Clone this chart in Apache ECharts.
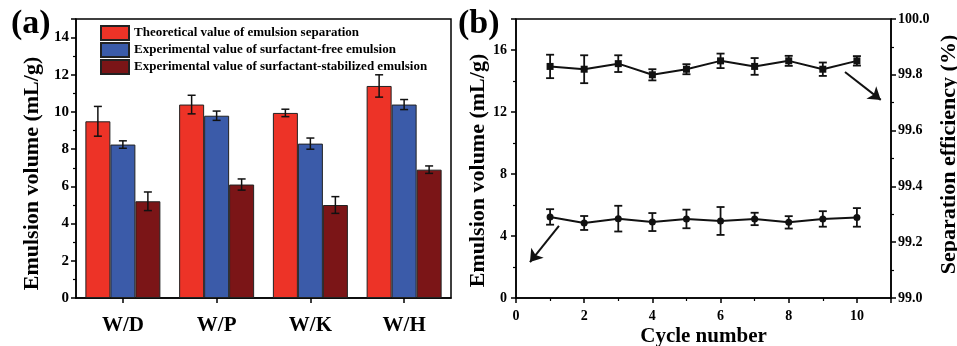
<!DOCTYPE html>
<html><head><meta charset="utf-8">
<script src="https://cdn.jsdelivr.net/npm/echarts@6/dist/echarts.min.js"></script>
<style>html,body{margin:0;padding:0;background:#fff}#c{width:957px;height:346px}</style>
</head><body><div id="c"></div>
<script>
// ---- data ----
var categories = ['W/D', 'W/P', 'W/K', 'W/H'];
var legendNames = ['Theoretical value of emulsion separation', 'Experimental value of surfactant-free emulsion', 'Experimental value of surfactant-stabilized emulsion'];
var theoreticalVals = [9.5, 10.4, 9.95, 11.4];
var theoreticalErr = [0.8, 0.5, 0.2, 0.6];
var freeVals = [8.25, 9.8, 8.3, 10.4];
var freeErr = [0.2, 0.25, 0.3, 0.27];
var stabVals = [5.2, 6.1, 5.0, 6.9];
var stabErr = [0.5, 0.3, 0.45, 0.2];

var cycles = [1, 2, 3, 4, 5, 6, 7, 8, 9, 10];
var efficiency = [99.83, 99.82, 99.84, 99.80, 99.82, 99.85, 99.83, 99.85, 99.82, 99.85];
var efficiencyErr = [0.042, 0.05, 0.03, 0.02, 0.018, 0.026, 0.03, 0.018, 0.024, 0.017];
var volume = [5.23, 4.84, 5.12, 4.9, 5.1, 4.97, 5.1, 4.88, 5.1, 5.2];
var volumeErr = [0.5, 0.45, 0.83, 0.58, 0.6, 0.9, 0.4, 0.4, 0.5, 0.6];

// annotation arrows (data coordinates)
var arrowEff = [[9.65, 99.81], [10.7, 99.71]];
var arrowVol = [[1.26, 4.65], [0.41, 2.32]];

var colors = ['#ED3327', '#3B5BA9', '#7B1517'];
var FONT = '"Liberation Serif", "Times New Roman", serif';

var chart = echarts.init(document.getElementById('c'), null, {renderer: 'canvas'});

function barErr(vals, errs, k) {
  return {
    type: 'custom', xAxisIndex: 0, yAxisIndex: 0, z: 10, silent: true,
    data: vals.map(function (v, i) { return [i, v, errs[i]]; }),
    encode: {x: 0, y: 1},
    renderItem: function (params, api) {
      var i = api.value(0), v = api.value(1), e = api.value(2);
      var band = api.size([1, 0])[0];
      var bw = band * 0.8 / 3;
      var off = (k - 1) * bw;
      var top = api.coord([i, v + e]), bot = api.coord([i, v - e]);
      var x = top[0] + off, cap = 4;
      var st = {stroke: '#111', lineWidth: 1.5};
      return {type: 'group', children: [
        {type: 'line', shape: {x1: x, y1: top[1], x2: x, y2: bot[1]}, style: st},
        {type: 'line', shape: {x1: x - cap, y1: top[1], x2: x + cap, y2: top[1]}, style: st},
        {type: 'line', shape: {x1: x - cap, y1: bot[1], x2: x + cap, y2: bot[1]}, style: st}
      ]};
    }
  };
}
function lineErr(xs, vals, errs, yIdx) {
  return {
    type: 'custom', xAxisIndex: 1, yAxisIndex: yIdx, z: 10, silent: true,
    data: vals.map(function (v, i) { return [xs[i], v, errs[i]]; }),
    encode: {x: 0, y: 1},
    renderItem: function (params, api) {
      var xv = api.value(0), v = api.value(1), e = api.value(2);
      var top = api.coord([xv, v + e]), bot = api.coord([xv, v - e]);
      var x = top[0], cap = 4;
      var st = {stroke: '#111', lineWidth: 1.8};
      return {type: 'group', children: [
        {type: 'line', shape: {x1: x, y1: top[1], x2: x, y2: bot[1]}, style: st},
        {type: 'line', shape: {x1: x - cap, y1: top[1], x2: x + cap, y2: top[1]}, style: st},
        {type: 'line', shape: {x1: x - cap, y1: bot[1], x2: x + cap, y2: bot[1]}, style: st}
      ]};
    }
  };
}

var axisLine = {show: true, lineStyle: {color: '#000', width: 1.5}};
var tick = {show: true, inside: false, length: 5, lineStyle: {color: '#000', width: 1.5}};
var minor = {show: true, splitNumber: 2, length: 3, lineStyle: {color: '#000', width: 1.2}};
var noSplit = {show: false};

function barSeries(name, vals, k) {
  return {
    name: name, type: 'bar', xAxisIndex: 0, yAxisIndex: 0, data: vals,
    barGap: 0, barCategoryGap: '20%',
    itemStyle: {color: colors[k], borderColor: '#222', borderWidth: 1}
  };
}

var option = {
  animation: false,
  backgroundColor: '#fff',
  textStyle: {fontFamily: FONT},
  title: [
    {text: '(a)', left: 6, top: 2, textStyle: {fontFamily: FONT, fontWeight: 'bold', fontSize: 34, color: '#000'}},
    {text: '(b)', left: 453, top: 2, textStyle: {fontFamily: FONT, fontWeight: 'bold', fontSize: 34, color: '#000'}}
  ],
  legend: {
    data: legendNames.map(function (n) { return {name: n, icon: 'rect'}; }),
    orient: 'vertical', left: 95, top: 20,
    itemWidth: 28, itemHeight: 14, itemGap: 1,
    textStyle: {fontFamily: FONT, fontWeight: 'bold', fontSize: 13, color: '#000', lineHeight: 15},
    selectedMode: false
  },
  grid: [
    {left: 76, top: 19, width: 375, height: 279, show: true, borderColor: '#000', borderWidth: 1.5,
     backgroundColor: 'transparent', containLabel: false, outerBoundsMode: 'none'},
    {left: 516, top: 19, width: 375, height: 279, show: true, borderColor: '#000', borderWidth: 1.5,
     backgroundColor: 'transparent', containLabel: false, outerBoundsMode: 'none'}
  ],
  xAxis: [
    {type: 'category', gridIndex: 0, data: categories, axisLine: axisLine,
     axisTick: {show: true, alignWithLabel: true, length: 5, lineStyle: {color: '#000', width: 1.5}},
     axisLabel: {fontFamily: FONT, fontWeight: 'bold', fontSize: 21, color: '#000', margin: 17},
     splitLine: noSplit},
    {type: 'value', gridIndex: 1, min: 0, max: 11, interval: 2, axisLine: axisLine, axisTick: tick, minorTick: minor,
     axisLabel: {fontFamily: FONT, fontWeight: 'bold', fontSize: 14, color: '#000', margin: 11, showMaxLabel: false},
     splitLine: noSplit, minorSplitLine: noSplit,
     name: 'Cycle number', nameLocation: 'middle', nameGap: 28, nameMoveOverlap: false,
     nameTextStyle: {fontFamily: FONT, fontWeight: 'bold', fontSize: 21, color: '#000'}}
  ],
  yAxis: [
    {type: 'value', gridIndex: 0, min: 0, max: 15, interval: 2, axisLine: axisLine, axisTick: tick, minorTick: minor,
     axisLabel: {fontFamily: FONT, fontWeight: 'bold', fontSize: 15, color: '#000', margin: 7, showMaxLabel: false},
     splitLine: noSplit, minorSplitLine: noSplit,
     name: 'Emulsion volume (mL/g)', nameLocation: 'middle', nameGap: 33, nameRotate: 90,
     nameTextStyle: {fontFamily: FONT, fontWeight: 'bold', fontSize: 22, color: '#000', padding: [0, 30, 0, 0]}},
    {type: 'value', gridIndex: 1, min: 0, max: 18, interval: 4, axisLine: axisLine, axisTick: tick, minorTick: minor,
     axisLabel: {fontFamily: FONT, fontWeight: 'bold', fontSize: 14, color: '#000', margin: 9, showMaxLabel: false},
     splitLine: noSplit, minorSplitLine: noSplit,
     name: 'Emulsion volume (mL/g)', nameLocation: 'middle', nameGap: 27, nameRotate: 90,
     nameTextStyle: {fontFamily: FONT, fontWeight: 'bold', fontSize: 22, color: '#000', padding: [0, 24, 0, 0]}},
    {type: 'value', gridIndex: 1, position: 'right', min: 99, max: 100, interval: 0.2, axisLine: axisLine, axisTick: tick, minorTick: minor,
     axisLabel: {fontFamily: FONT, fontWeight: 'bold', fontSize: 14, color: '#000', margin: 7,
                 formatter: function (v) { return v.toFixed(1); }},
     splitLine: noSplit, minorSplitLine: noSplit,
     name: 'Separation efficiency (%)', nameLocation: 'middle', nameGap: 47, nameRotate: 90,
     nameTextStyle: {fontFamily: FONT, fontWeight: 'bold', fontSize: 22, color: '#000', padding: [0, 0, 0, 8]}}
  ],
  series: [
    barSeries(legendNames[0], theoreticalVals, 0),
    barSeries(legendNames[1], freeVals, 1),
    barSeries(legendNames[2], stabVals, 2),
    barErr(theoreticalVals, theoreticalErr, 0),
    barErr(freeVals, freeErr, 1),
    barErr(stabVals, stabErr, 2),
    {
      type: 'line', xAxisIndex: 1, yAxisIndex: 2, z: 12,
      data: cycles.map(function (c, i) { return [c, efficiency[i]]; }),
      symbol: 'rect', symbolSize: 7, showSymbol: true,
      lineStyle: {color: '#111', width: 2}, itemStyle: {color: '#111'},
      markLine: {silent: true, symbol: ['none', 'arrow'], symbolSize: 12,
        lineStyle: {color: '#111', width: 2, type: 'solid'}, label: {show: false},
        data: [[{coord: arrowEff[0]}, {coord: arrowEff[1]}]]}
    },
    {
      type: 'line', xAxisIndex: 1, yAxisIndex: 1, z: 12,
      data: cycles.map(function (c, i) { return [c, volume[i]]; }),
      symbol: 'circle', symbolSize: 7, showSymbol: true,
      lineStyle: {color: '#111', width: 2}, itemStyle: {color: '#111'},
      markLine: {silent: true, symbol: ['none', 'arrow'], symbolSize: 12,
        lineStyle: {color: '#111', width: 2, type: 'solid'}, label: {show: false},
        data: [[{coord: arrowVol[0]}, {coord: arrowVol[1]}]]}
    },
    lineErr(cycles, efficiency, efficiencyErr, 2),
    lineErr(cycles, volume, volumeErr, 1)
  ]
};
chart.setOption(option);
</script></body></html>
